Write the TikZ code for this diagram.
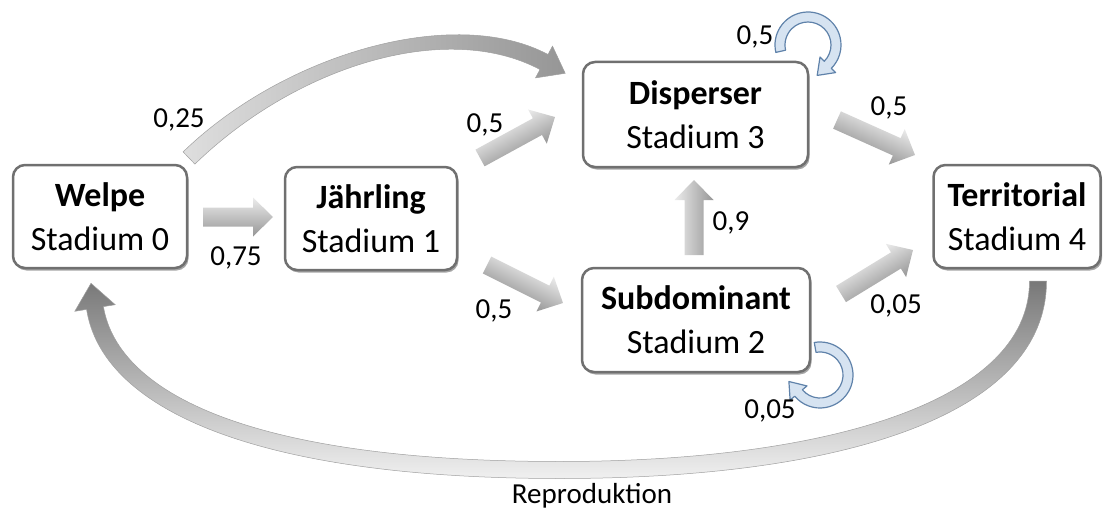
\documentclass[tikz,border=0pt]{standalone}
\usepackage{fontspec}
\setmainfont{Carlito}
\usetikzlibrary{calc,shadows}
\definecolor{boxgray}{RGB}{112,112,112}
\definecolor{arrlight}{RGB}{236,236,236}
\definecolor{arrdark}{RGB}{150,150,150}
\definecolor{arcdark}{RGB}{120,120,120}
\definecolor{arclight}{RGB}{240,240,240}
\definecolor{arcstart}{RGB}{222,222,222}
\definecolor{arcedge}{RGB}{160,160,160}
\definecolor{loopfill}{RGB}{214,227,241}
\definecolor{loopedge}{RGB}{95,130,170}
\tikzset{
  stage/.style={draw=boxgray, line width=2.5pt, rounded corners=12pt, fill=white,
    align=center, inner sep=0pt, font=\fontsize{34}{44}\selectfont,
    drop shadow={shadow xshift=1.5pt, shadow yshift=-2.5pt, opacity=0.35, fill=black}},
  lbl/.style={font=\fontsize{29}{35}\selectfont, anchor=base, inner sep=0pt},
  blockarr/.style={top color=arrlight, bottom color=arrdark, draw=none},
  loopst/.style={fill=loopfill, draw=loopedge, line width=1.2pt, line join=round},
}
\newcommand\blockarrow[2]{%
  \path let \p1=(#1), \p2=(#2) in \pgfextra{%
    \pgfmathsetmacro\baang{atan2(\y2-\y1,\x2-\x1)}\global\let\baang\baang
    \pgfmathsetmacro\balen{veclen(\x2-\x1,\y2-\y1)}\global\let\balen\balen};
  \begin{scope}[transform canvas={shift={(#1)},rotate=\baang}]
    \shade[blockarr] (0pt,-9.5pt) -- ({\balen pt-20pt},-9.5pt) -- ({\balen pt-20pt},-19.5pt)
      -- (\balen pt,0pt) -- ({\balen pt-20pt},19.5pt) -- ({\balen pt-20pt},9.5pt) -- (0pt,9.5pt) -- cycle;
  \end{scope}}
\begin{document}
\begin{tikzpicture}[x=1pt,y=-1pt]
\path[use as bounding box] (0,0) rectangle (1103,511);

% boxes
\node[stage, minimum width=174pt, minimum height=103pt] (welpe) at (100,216.5) {\textbf{Welpe}\\Stadium 0};
\node[stage, minimum width=172pt, minimum height=103pt] (jahr) at (371,218.5) {\textbf{Jährling}\\Stadium 1};
\node[stage, minimum width=225pt, minimum height=105pt] (disp) at (695.5,114.5) {\textbf{Disperser}\\Stadium 3};
\node[stage, minimum width=228pt, minimum height=104pt] (subd) at (696,320) {\textbf{Subdominant}\\Stadium 2};
\node[stage, minimum width=167pt, minimum height=103pt] (terr) at (1017,216.5) {\textbf{Territorial}\\Stadium 4};

% straight block arrows
\coordinate (wjA) at (203,217);  \coordinate (wjB) at (273,217);
\coordinate (jdA) at (480,158);  \coordinate (jdB) at (555,117);
\coordinate (jsA) at (487,265);  \coordinate (jsB) at (563,303);
\coordinate (sdA) at (694,255);  \coordinate (sdB) at (694,180);
\coordinate (dtA) at (837,120);  \coordinate (dtB) at (915,155);
\coordinate (stA) at (841,294);  \coordinate (stB) at (913,250);
\blockarrow{wjA}{wjB}
\blockarrow{jdA}{jdB}
\blockarrow{jsA}{jsB}
\blockarrow{sdA}{sdB}
\blockarrow{dtA}{dtB}
\blockarrow{stA}{stB}

% curved arrow Welpe -> Disperser (0,25)
\shade[left color=arcstart, right color=arrdark, draw=arcedge, line width=0.5pt]
  (183.1,151.9) .. controls (284.1,53.9) and (454,4.5) .. (548,54.5)
  -- (552.5,46.1) -- (565.2,73.3) -- (535.5,77.9) -- (540,69.5)
  .. controls (446,19.5) and (295.9,66.1) .. (194.9,164.1) -- cycle;

% Reproduktion arc Territorial -> Welpe
\shade[top color=arcdark, bottom color=arclight, draw=arcedge, line width=0.5pt]
  (1046.5,281) .. controls (1046.5,416) and (840,478.5) .. (560,478.5)
  .. controls (245,478.5) and (101.6,405) .. (86.6,309.4)
  -- (74.8,311.3) -- (91,283.3) -- (115.2,304.7) -- (103.4,306.6)
  .. controls (118.4,395) and (255,461.5) .. (560,461.5)
  .. controls (820,461.5) and (1029.5,404) .. (1029.5,281) -- cycle;

% self loops
\coordinate (c3) at (808,45);
\filldraw[loopst] ($(c3)+(193:33pt)$) arc[start angle=193, end angle=-45, radius=33pt]
  -- ($(c3)+(-45:39pt)$) -- ($(c3)+(-45:28pt)+(-135:15pt)$) -- ($(c3)+(-45:17pt)$)
  -- ($(c3)+(-45:23pt)$) arc[start angle=-45, end angle=193, radius=23pt] -- cycle;
\coordinate (c2) at (820,375);
\filldraw[loopst] ($(c2)+(100:33pt)$) arc[start angle=100, end angle=-140, radius=33pt]
  -- ($(c2)+(-140:39pt)$) -- ($(c2)+(-140:28pt)+(130:15pt)$) -- ($(c2)+(-140:17pt)$)
  -- ($(c2)+(-140:23pt)$) arc[start angle=-140, end angle=100, radius=23pt] -- cycle;

% labels
\node[lbl] (l025) at (179,127) {0,25};
\node[lbl] (l075) at (236,265) {0,75};
\node[lbl] (l05a) at (485,132) {0,5};
\node[lbl] (l05b) at (494,318) {0,5};
\node[lbl] (l09) at (731,230) {0,9};
\node[lbl] (l05c) at (889,115) {0,5};
\node[lbl] (l005a) at (896,313) {0,05};
\node[lbl] (l05d) at (755,45) {0,5};
\node[lbl] (l005b) at (770,418) {0,05};
\node[lbl] (repro) at (592,503) {Reproduktion};
\end{tikzpicture}
\end{document}
